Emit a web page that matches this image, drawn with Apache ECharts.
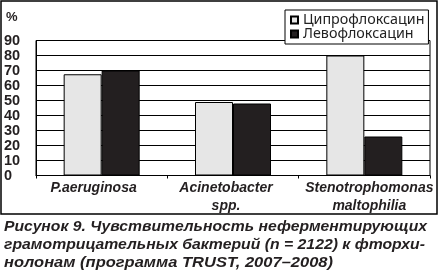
<!DOCTYPE html>
<html><head><meta charset="utf-8">
<script src="https://cdn.jsdelivr.net/npm/echarts@6/dist/echarts.min.js"></script>
<style>html,body{margin:0;padding:0;background:#fff}#c{width:439px;height:271px}</style>
</head><body><div id="c"></div>
<script>
var categories = ['P.aeruginosa', 'Acinetobacter\nspp.', 'Stenotrophomonas\nmaltophilia'];
var seriesNames = ['Ципрофлоксацин', 'Левофлоксацин'];
var cipro = [67.5, 49, 80];
var levo = [70, 48, 26];
var yTicks = [0, 10, 20, 30, 40, 50, 60, 70, 80, 90];
var captionLines = [
  'Рисунок 9. Чувствительность неферментирующих',
  'грамотрицательных бактерий (n = 2122) к фторхи-',
  'нолонам (программа TRUST, 2007–2008)'
];

var chart = echarts.init(document.getElementById('c'), null, {renderer: 'canvas'});
var dark = '#231f20';
var capFont = 'italic bold 15.5px "Liberation Sans"';
var capTargets = [423, 421, 329];
var mctx = document.createElement('canvas').getContext('2d');
mctx.font = capFont;
var capGraphics = captionLines.map(function (t, i) {
  var w = mctx.measureText(t).width;
  return {type: 'text', x: 4, y: 219 + i * 18, scaleX: capTargets[i] / w,
    style: {text: t, font: capFont, fill: dark, textVerticalAlign: 'top'}};
});
var labelPads = [[0, 16, 0, 0], [0, 14, 0, 0], [0, 0, 0, 10]];
var catData = categories.map(function (c, i) {
  return {value: c, textStyle: {padding: labelPads[i]}};
});
chart.setOption({
  animation: false,
  backgroundColor: '#fff',
  grid: {left: 36, right: 9, top: 40.5, bottom: 95.5, show: true, borderColor: '#000', borderWidth: 1},
  legend: {
    orient: 'vertical', left: 285, top: 10, itemGap: 0, itemWidth: 7, itemHeight: 7,
    padding: [3, 4, 3, 5], backgroundColor: '#fff', borderColor: '#000', borderWidth: 1,
    icon: 'rect',
    textStyle: {fontFamily: 'Noto Sans', fontSize: 14.3, lineHeight: 13, color: '#222'},
    data: seriesNames
  },
  xAxis: {
    type: 'category', data: catData,
    axisLine: {lineStyle: {color: '#000', width: 1}},
    axisTick: {show: true, length: 3, lineStyle: {color: '#000'}},
    axisLabel: {margin: 4, color: dark, fontFamily: 'Liberation Sans', fontStyle: 'italic', fontWeight: 'bold', fontSize: 14, lineHeight: 18, interval: 0}
  },
  yAxis: {
    type: 'value', min: 0, max: 90, interval: 10,
    axisLine: {show: true, lineStyle: {color: '#000'}},
    axisTick: {show: false},
    splitLine: {lineStyle: {color: '#000', width: 1}},
    axisLabel: {align: 'left', margin: 32, color: dark, fontFamily: 'Liberation Sans', fontWeight: 'bold', fontSize: 14.5,
      formatter: function (v) { return yTicks.indexOf(v) >= 0 ? String(v) : ''; }}
  },
  series: [
    {name: seriesNames[0], type: 'bar', data: cipro, barWidth: 38, barGap: '0%',
      itemStyle: {color: '#e6e6e6', borderColor: '#000', borderWidth: 1}},
    {name: seriesNames[1], type: 'bar', data: levo, barWidth: 38,
      itemStyle: {color: dark, borderColor: '#000', borderWidth: 1}}
  ],
  graphic: [
    {type: 'rect', shape: {x: 1, y: 1, width: 436, height: 213}, style: {fill: 'none', stroke: '#000', lineWidth: 1.5}, silent: true},
    {type: 'text', left: 6, top: 11, style: {text: '%', font: 'bold 13px "Liberation Sans"', fill: dark}}
  ].concat(capGraphics)
});
</script></body></html>
